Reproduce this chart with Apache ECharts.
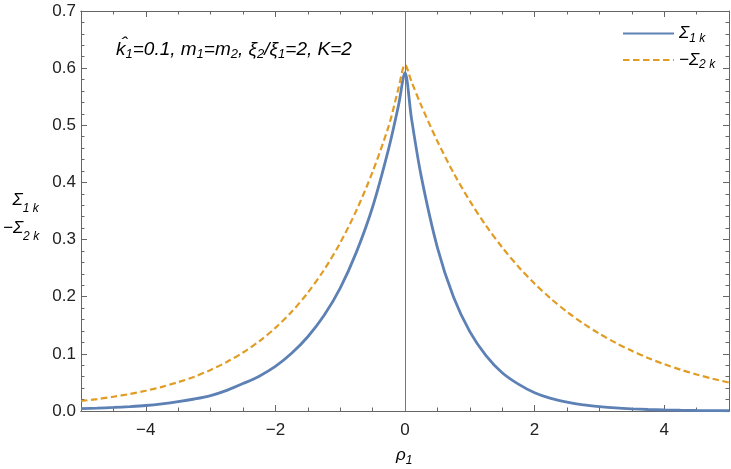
<!DOCTYPE html>
<html>
<head>
<meta charset="utf-8">
<script src="https://cdn.jsdelivr.net/npm/echarts@6/dist/echarts.min.js"></script>
<style>
html,body{margin:0;padding:0;background:#fff;}
#main{width:731px;height:469px;}
</style>
</head>
<body>
<div id="main"></div>
<script>
// rho_1 sample points
var rho = [-5, -4.75, -4.5, -4.25, -4, -3.75, -3.5, -3.25, -3, -2.75, -2.5, -2.25, -2, -1.75, -1.5, -1.25, -1, -0.75, -0.5, -0.25, -0.1, 0,
           0.1, 0.25, 0.5, 0.75, 1, 1.25, 1.5, 1.75, 2, 2.25, 2.5, 2.75, 3, 3.25, 3.5, 3.75, 4, 4.25, 4.5, 4.75, 5];
// Sigma_1k (blue, solid)
var sigma1k = [0.004, 0.005, 0.0062, 0.0077, 0.0096, 0.0125, 0.0163, 0.021, 0.027, 0.0362, 0.048, 0.061, 0.078, 0.101, 0.13, 0.167, 0.215, 0.278, 0.357, 0.46, 0.535, 0.592,
               0.512, 0.411, 0.286, 0.199, 0.139, 0.097, 0.067, 0.047, 0.032, 0.022, 0.0155, 0.0108, 0.0077, 0.0053, 0.0037, 0.0026, 0.0018, 0.0013, 0.0009, 0.0006, 0.0004];
// -Sigma_2k (orange, dashed)
var minusSigma2k = [0.0175, 0.0208, 0.025, 0.0297, 0.0355, 0.0423, 0.0505, 0.06, 0.0719, 0.0858, 0.1023, 0.122, 0.1455, 0.1735, 0.207, 0.2468, 0.2943, 0.351, 0.4186, 0.4993, 0.565, 0.606,
                    0.5765, 0.5348, 0.472, 0.4165, 0.3676, 0.3244, 0.2863, 0.2526, 0.2229, 0.1967, 0.1736, 0.1532, 0.1352, 0.1193, 0.1053, 0.0929, 0.082, 0.0724, 0.0639, 0.0564, 0.0498];

var xTicks = [-4, -2, 0, 2, 4];
var xMinorTicks = [-5, -4.5, -4, -3.5, -3, -2.5, -2, -1.5, -1, -0.5, 0, 0.5, 1, 1.5, 2, 2.5, 3, 3.5, 4, 4.5, 5];

var font = 'Liberation Sans, Arial, sans-serif';
var frameColor = '#666';
var blue = '#5E81B5', orange = '#E19C24';

var myChart = echarts.init(document.getElementById('main'));

function pairs(xs, ys) {
    return xs.map(function (x, i) { return [x, ys[i]]; });
}
function fmtX(v) {
    return v < 0 ? '\u2212' + Math.abs(v) : String(v);
}

function xAxisDef(pos, ticks, len, showLabel) {
    return {
        type: 'value', min: -5, max: 5, position: pos,
        axisLine: { show: true, onZero: false, lineStyle: { color: frameColor, width: 1 } },
        axisTick: { show: true, inside: true, length: len, customValues: ticks, lineStyle: { color: frameColor } },
        axisLabel: { show: showLabel, customValues: xTicks, formatter: fmtX, color: '#222', fontSize: 17, fontFamily: font, margin: 11 },
        splitLine: { show: false }
    };
}
function yAxisDef(pos, showLabel) {
    return {
        type: 'value', min: 0, max: 0.7, interval: 0.1, position: pos,
        axisLine: { show: true, onZero: false, lineStyle: { color: frameColor, width: 1 } },
        axisTick: { show: true, inside: true, length: 6, lineStyle: { color: frameColor } },
        minorTick: { show: true, splitNumber: 5, length: 3.5, lineStyle: { color: frameColor } },
        axisLabel: { show: showLabel, formatter: function (v) { return v.toFixed(1); }, color: '#222', fontSize: 17, fontFamily: font, margin: 5 },
        splitLine: { show: false }, minorSplitLine: { show: false }
    };
}

function richStyles(size) {
    return {
        m: { fontStyle: 'italic', fontSize: size, fontFamily: font, lineHeight: 22, color: '#000' },
        s: { fontStyle: 'italic', fontSize: Math.round(size * 0.68), fontFamily: font, lineHeight: 10, verticalAlign: 'bottom', color: '#000' }
    };
}

var option = {
    animation: false,
    backgroundColor: '#fff',
    grid: { left: 81, right: 2, top: 11, bottom: 58, containLabel: false },
    xAxis: [
        xAxisDef('bottom', xTicks, 6, true),
        xAxisDef('bottom', xMinorTicks, 3.5, false),
        xAxisDef('top', xTicks, 6, false),
        xAxisDef('top', xMinorTicks, 3.5, false)
    ],
    yAxis: [yAxisDef('left', true), yAxisDef('right', false)],
    legend: {
        orient: 'vertical', left: 617, top: 20, itemWidth: 51, itemHeight: 14, itemGap: 7,
        data: ['s1', 's2'],
        itemStyle: { opacity: 0 },
        formatter: function (name) {
            return name === 's1' ? '{m|Σ}{s|1 k}' : '{m|\u2212Σ}{s|2 k}';
        },
        textStyle: { rich: richStyles(17) }
    },
    graphic: [
        {
            type: 'text', left: 116, top: 40,
            style: {
                text: '{m|k}{s|1}{m|=0.1, m}{s|1}{m|=m}{s|2}{m|, ξ}{s|2}{m|/ξ}{s|1}{m|=2, K=2}',
                rich: richStyles(19)
            }
        },
        {
            type: 'text', left: 121, top: 35,
            style: { text: '\u02C6', font: 'italic 19px Liberation Sans', fill: '#000' }
        },
        {
            type: 'text', left: 3, top: 192,
            style: {
                text: '{m|\u2007Σ}{s|1 k}\n{m|\u2212Σ}{s|2 k}',
                rich: {
                    m: { fontStyle: 'italic', fontSize: 17, fontFamily: font, lineHeight: 28, color: '#000' },
                    s: { fontStyle: 'italic', fontSize: 12, fontFamily: font, lineHeight: 14, verticalAlign: 'bottom', color: '#000' }
                }
            }
        },
        {
            type: 'text', left: 396, top: 447,
            style: { text: '{m|ρ}{s|1}', rich: richStyles(17) }
        }
    ],
    series: [
        {
            name: 's1', type: 'line', xAxisIndex: 0, yAxisIndex: 0,
            data: pairs(rho, sigma1k), smooth: 0.3, symbol: 'none',
            lineStyle: { color: blue, width: 2.8 }, itemStyle: { color: blue },
            markLine: {
                silent: true, symbol: 'none', label: { show: false },
                lineStyle: { color: '#777', width: 1, type: 'solid' },
                data: [{ xAxis: 0 }]
            }
        },
        {
            name: 's2', type: 'line', xAxisIndex: 0, yAxisIndex: 0,
            data: pairs(rho, minusSigma2k), smooth: 0.3, symbol: 'none',
            lineStyle: { color: orange, width: 2.2, type: [6.5, 3.5] }, itemStyle: { color: orange }
        }
    ]
};

myChart.setOption(option);
</script>
</body>
</html>
